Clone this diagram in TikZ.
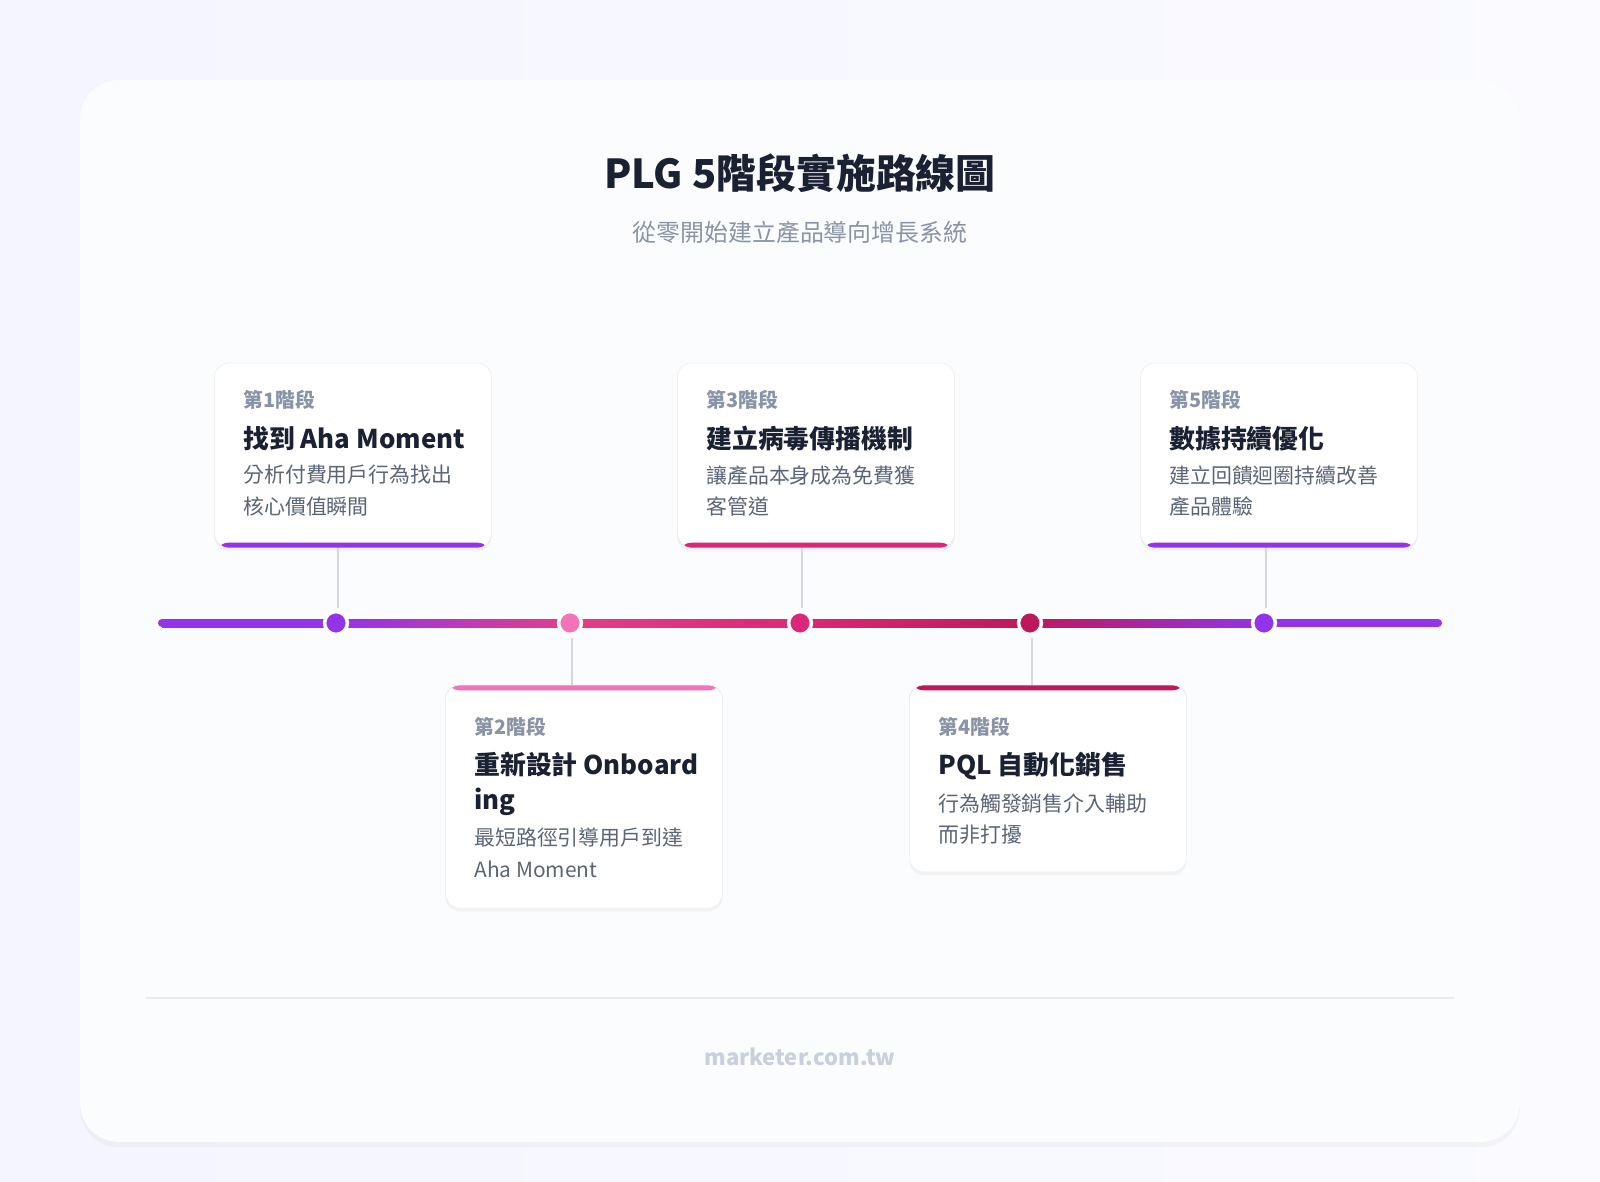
\documentclass[tikz,border=0pt]{standalone}
\usepackage{fontspec}
\setmainfont{Noto Sans CJK TC}
\usetikzlibrary{shadows}
\definecolor{ink}{HTML}{1A2133}
\definecolor{muted}{HTML}{8A94A6}
\definecolor{body}{HTML}{5B6577}
\definecolor{purp}{HTML}{9333EA}
\definecolor{pinkl}{HTML}{F472B6}
\definecolor{rose}{HTML}{DB2777}
\definecolor{crim}{HTML}{BE185D}
\definecolor{stem}{HTML}{D4D7DD}
\definecolor{paper}{HTML}{FBFCFD}
\definecolor{footc}{HTML}{C8D0DC}

\begin{document}
\begin{tikzpicture}[x=0.02cm,y=-0.02cm]
    \tikzstyle{card}=[draw=black!6,fill=white,rounded corners=8pt,minimum width=5.54cm,inner sep=0pt,drop shadow={opacity=0.07,shadow xshift=0pt,shadow yshift=-2pt}]
    \tikzstyle{accent bottom}=[path picture={\fill[#1] ([yshift=3pt]path picture bounding box.south west) rectangle (path picture bounding box.south east);}]
    \tikzstyle{accent top}=[path picture={\fill[#1] ([yshift=-3pt]path picture bounding box.north west) rectangle (path picture bounding box.north east);}]
    \tikzstyle{stage}=[anchor=west,inner sep=0pt,text=muted,font=\fontsize{11.3}{13}\selectfont\bfseries]
    \tikzstyle{head}=[anchor=west,inner sep=0pt,text=ink,font=\fontsize{14.7}{19.8}\selectfont\bfseries,align=left]
    \tikzstyle{desc}=[anchor=north west,inner sep=0pt,text=body,font=\fontsize{11.9}{18.1}\selectfont,align=left]
    \tikzstyle{dot}=[circle,draw=white,line width=2pt,minimum size=13pt,inner sep=0pt]
    \tikzstyle{stick}=[draw=stem,line width=1.6pt]

    % background and panel
    \shade[left color=blue!4!white,right color=green!2!blue!2!white] (0,0) rectangle (1600,1182);
    \useasboundingbox (0,0) rectangle (1600,1182);
    \node[fill=paper,rounded corners=22pt,minimum width=28.8cm,minimum height=21.24cm,drop shadow={opacity=0.06,shadow xshift=0pt,shadow yshift=-3pt}] (panel) at (800,611) {};

    \node[text=ink,font=\fontsize{22.7}{26}\selectfont\bfseries] (title) at (800,173) {PLG 5階段實施路線圖};
    \node[text=muted,font=\fontsize{13.6}{16}\selectfont] (sub) at (800,232) {從零開始建立產品導向增長系統};

    % timeline
    \shade[left color=purp,right color=purp] (162,619) rectangle (336,627);
    \shade[left color=purp,right color=rose!70!pinkl] (336,619) rectangle (570,627);
    \shade[left color=rose!70!pinkl,right color=rose] (570,619) rectangle (800,627);
    \shade[left color=rose,right color=crim] (800,619) rectangle (1030,627);
    \shade[left color=crim,right color=purp] (1030,619) rectangle (1264,627);
    \fill[purp] (1264,619) rectangle (1438,627);
    \fill[purp] (162,623) circle (0.08cm);
    \fill[purp] (1438,623) circle (0.08cm);

    % cards
    \node[card,minimum height=3.7cm,accent bottom=purp] (C1) at (353,455.5) {};
    \node[card,minimum height=3.7cm,accent bottom=rose] (C3) at (816,455.5) {};
    \node[card,minimum height=3.7cm,accent bottom=purp] (C5) at (1279,455.5) {};
    \node[card,minimum height=4.46cm,accent top=pinkl] (C2) at (584,796.5) {};
    \node[card,minimum height=3.74cm,accent top=crim] (C4) at (1048,778.5) {};

    % dots and sticks
    \node[dot,fill=purp] (D1) at (336,623) {};
    \node[dot,fill=pinkl] (D2) at (570,623) {};
    \node[dot,fill=rose] (D3) at (800,623) {};
    \node[dot,fill=crim] (D4) at (1030,623) {};
    \node[dot,fill=purp] (D5) at (1264,623) {};
    \foreach \n in {1,3,5}{
        \path[stick] ([xshift=0.04cm]D\n.center |- C\n.south) -- ([xshift=0.04cm,yshift=0.3cm]D\n.center);
    }
    \path[stick] ([xshift=0.04cm]D2.center |- C2.north) -- ([xshift=0.04cm,yshift=-0.3cm]D2.center);
    \path[stick] ([xshift=0.04cm]D4.center |- C4.north) -- ([xshift=0.04cm,yshift=-0.3cm]D4.center);

    % card texts
    \node[stage] (s1) at (243,400) {第1階段};
    \node[head] (h1) at (243,439) {找到 Aha Moment};
    \node[desc] (d1) at (243,465) {分析付費用戶行為找出\\核心價值瞬間};

    \node[stage] (s3) at (706,400) {第3階段};
    \node[head] (h3) at (706,439) {建立病毒傳播機制};
    \node[desc] (d3) at (706,465) {讓產品本身成為免費獲\\客管道};

    \node[stage] (s5) at (1169,400) {第5階段};
    \node[head] (h5) at (1169,439) {數據持續優化};
    \node[desc] (d5) at (1169,465) {建立回饋迴圈持續改善\\產品體驗};

    \node[stage] (s2) at (474,727) {第2階段};
    \node[head,anchor=north west] (h2) at (474,752) {重新設計 Onboard\\ing};
    \node[desc] (d2) at (474,828) {最短路徑引導用戶到達\\Aha Moment};

    \node[stage] (s4) at (938,727) {第4階段};
    \node[head] (h4) at (938,766) {PQL 自動化銷售};
    \node[desc] (d4) at (938,793) {行為觸發銷售介入輔助\\而非打擾};

    % footer
    \coordinate (fl) at (146,998);
    \coordinate (fr) at (1454,998);
    \draw[black!8,line width=0.8pt] (fl) -- (fr);
    \node[text=footc,font=\fontsize{12.5}{14}\selectfont\bfseries] (foot) at (800,1057) {marketer.com.tw};
\end{tikzpicture}
\end{document}
